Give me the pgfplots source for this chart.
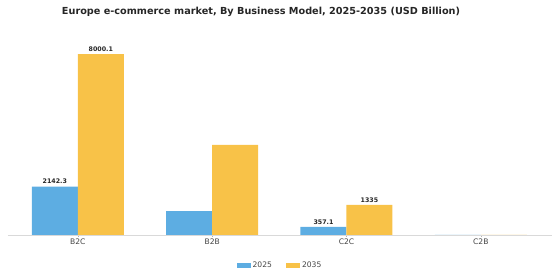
\documentclass[border=0pt]{standalone}
\usepackage{pgfplots}
\pgfplotsset{compat=1.18}
\usepackage{fontspec}
\setmainfont{DejaVu Sans}
\definecolor{cblue}{RGB}{93,173,226}
\definecolor{cyellow}{RGB}{248,194,72}
\definecolor{ctxt}{RGB}{68,68,68}
\begin{document}
\begin{tikzpicture}
\useasboundingbox (0,0) rectangle (560pt,280pt);
\node[font=\fontsize{9.7}{11}\selectfont\bfseries, text=black!85] at (261pt,268.5pt) {Europe e-commerce market, By Business Model, 2025-2035 (USD Billion)};
\begin{axis}[
  at={(8pt,45pt)}, anchor=south west,
  scale only axis, width=544pt, height=190pt,
  ymin=0, ymax=8400,
  xmin=-0.52, xmax=3.53,
  ybar=0pt, bar width=46pt,
  axis y line=none,
  axis x line*=bottom,
  x axis line style={draw=black!15, line width=0.8pt, -},
  xtick={0,1,2,3},
  xticklabels={B2C,B2B,C2C,C2B},
  xtick style={draw=black!30, line width=0.4pt},
  xtick align=outside, major tick length=2pt,
  xticklabel style={font=\fontsize{7.6}{8}\selectfont, text=ctxt, yshift=2pt},
  point meta=explicit symbolic,
  nodes near coords,
  nodes near coords style={font=\fontsize{6.3}{7}\selectfont\bfseries, text=black!85, yshift=-1pt},
  legend columns=2,
  legend style={at={(0.5,-0.158)}, anchor=center, draw=none, fill=none,
    font=\fontsize{7.6}{8}\selectfont, text=ctxt,
    /tikz/every even column/.append style={column sep=12pt}},
  legend image code/.code={\fill[#1] (0pt,-2.5pt) rectangle (14pt,2.5pt);},
]
\addplot[fill=cblue, draw=none] coordinates {(0,2142.3) [2142.3] (1,1060) [] (2,357.1) [357.1] (3,2) []};
\addplot[fill=cyellow, draw=none] coordinates {(0,8000.1) [8000.1] (1,3980) [] (2,1335) [1335] (3,6) []};
\legend{2025,2035}
\end{axis}
\end{tikzpicture}
\end{document}
